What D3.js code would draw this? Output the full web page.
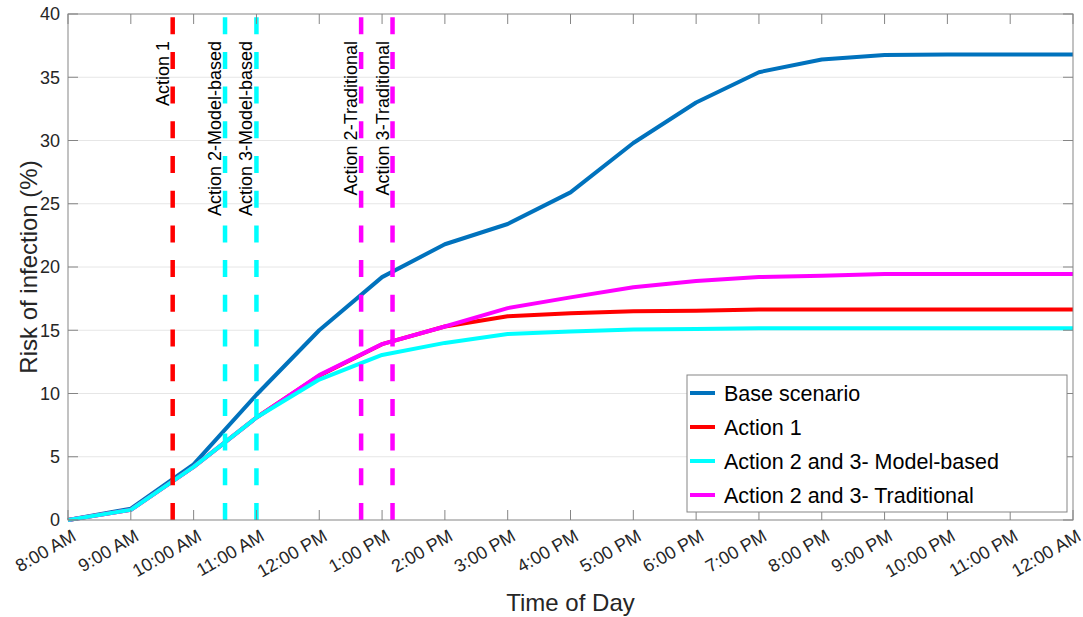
<!DOCTYPE html>
<html>
<head>
<meta charset="utf-8">
<script src="https://cdn.jsdelivr.net/npm/d3@7"></script>
<style>
  body { margin: 0; background: #fff; }
  text { font-family: "Liberation Sans", Arial, sans-serif; fill: #262626; }
</style>
</head>
<body>
<svg class="plot" width="1083" height="617"></svg>
<script>
// hours since midnight, one point per hour from 8 AM to 12 AM
var hours = [8, 9, 10, 11, 12, 13, 14, 15, 16, 17, 18, 19, 20, 21, 22, 23, 24];
var hourLabels = ["8:00 AM", "9:00 AM", "10:00 AM", "11:00 AM", "12:00 PM", "1:00 PM", "2:00 PM",
  "3:00 PM", "4:00 PM", "5:00 PM", "6:00 PM", "7:00 PM", "8:00 PM", "9:00 PM", "10:00 PM",
  "11:00 PM", "12:00 AM"];
var yTicks = [0, 5, 10, 15, 20, 25, 30, 35, 40];

// risk of infection (%) for each scenario
var baseScenario = [0, 0.9, 4.4, 9.9, 15.0, 19.2, 21.8, 23.4, 25.9, 29.8, 33.0, 35.4, 36.4, 36.75, 36.8, 36.8, 36.8];
var action1 = [0, 0.8, 4.2, 8.1, 11.4, 13.9, 15.3, 16.1, 16.35, 16.5, 16.55, 16.65, 16.65, 16.65, 16.65, 16.65, 16.65];
var modelBased = [0, 0.8, 4.2, 8.1, 11.1, 13.05, 14.0, 14.7, 14.9, 15.05, 15.1, 15.15, 15.15, 15.15, 15.15, 15.15, 15.15];
var traditional = [0, 0.8, 4.2, 8.1, 11.45, 13.9, 15.3, 16.75, 17.6, 18.4, 18.9, 19.2, 19.3, 19.45, 19.45, 19.45, 19.45];

// intervention times (hours) and their labels
var actionTimes = [9 + 40 / 60, 10.5, 11, 12 + 40 / 60, 13 + 10 / 60];
var actionNames = ["Action 1", "Action 2-Model-based", "Action 3-Model-based", "Action 2-Traditional", "Action 3-Traditional"];
var actionColors = ["#ff0000", "#00ffff", "#00ffff", "#ff00ff", "#ff00ff"];

var seriesNames = ["Base scenario", "Action 1", "Action 2 and 3- Model-based", "Action 2 and 3- Traditional"];
var seriesColors = ["#0072bd", "#ff0000", "#00ffff", "#ff00ff"];
var seriesValues = [baseScenario, action1, modelBased, traditional];
var drawOrder = [0, 1, 3, 2]; // model-based line sits on top, as in the original

var svg = d3.select(".plot"),
    margin = {top: 14, right: 10, bottom: 97, left: 68},
    width = +svg.attr("width") - margin.left - margin.right,
    height = +svg.attr("height") - margin.top - margin.bottom;

var x = d3.scaleLinear().domain([8, 24]).range([0, width]),
    y = d3.scaleLinear().domain([0, 40]).range([height, 0]);

var g = svg.append("g")
    .attr("transform", "translate(" + margin.left + "," + margin.top + ")");

// horizontal grid
g.selectAll(".grid")
    .data(yTicks.slice(1, -1))
    .enter().append("line")
    .attr("x1", 0).attr("x2", width)
    .attr("y1", function(d) { return y(d); })
    .attr("y2", function(d) { return y(d); })
    .attr("stroke", "#e6e6e6")
    .attr("stroke-width", 1);

var line = d3.line()
    .x(function(d, i) { return x(hours[i]); })
    .y(function(d) { return y(d); });

g.selectAll(".series")
    .data(drawOrder)
    .enter().append("path")
    .attr("class", "series")
    .attr("d", function(k) { return line(seriesValues[k]); })
    .attr("fill", "none")
    .attr("stroke", function(k) { return seriesColors[k]; })
    .attr("stroke-width", 4)
    .attr("stroke-linejoin", "round");

// dashed action markers
g.selectAll(".action")
    .data(actionTimes)
    .enter().append("line")
    .attr("class", "action")
    .attr("x1", function(d) { return x(d); })
    .attr("x2", function(d) { return x(d); })
    .attr("y1", y(0))
    .attr("y2", y(40))
    .attr("stroke", function(d, i) { return actionColors[i]; })
    .attr("stroke-width", 4.5)
    .attr("stroke-dasharray", "17,17.7");

g.selectAll(".action-label")
    .data(actionTimes)
    .enter().append("text")
    .attr("transform", function(d) { return "translate(" + (x(d) - 4) + "," + (y(40) + 27) + ") rotate(-90)"; })
    .attr("text-anchor", "end")
    .style("font-size", "18px")
    .style("fill", "#000")
    .text(function(d, i) { return actionNames[i]; });

// axes box and inward ticks
var axisColor = "#858585";
g.append("rect")
    .attr("width", width).attr("height", height)
    .attr("fill", "none").attr("stroke", axisColor).attr("stroke-width", 1);

hours.forEach(function(h) {
  g.append("line").attr("x1", x(h)).attr("x2", x(h)).attr("y1", height).attr("y2", height - 10)
      .attr("stroke", axisColor);
  g.append("line").attr("x1", x(h)).attr("x2", x(h)).attr("y1", 0).attr("y2", 10)
      .attr("stroke", axisColor);
});
yTicks.forEach(function(v) {
  g.append("line").attr("x1", 0).attr("x2", 10).attr("y1", y(v)).attr("y2", y(v)).attr("stroke", axisColor);
  g.append("line").attr("x1", width).attr("x2", width - 10).attr("y1", y(v)).attr("y2", y(v)).attr("stroke", axisColor);
});

// tick labels
g.selectAll(".ylab")
    .data(yTicks)
    .enter().append("text")
    .attr("x", -8)
    .attr("y", function(d) { return y(d); })
    .attr("dy", "0.35em")
    .attr("text-anchor", "end")
    .style("font-size", "18px")
    .text(function(d) { return d; });

g.selectAll(".xlab")
    .data(hours)
    .enter().append("text")
    .attr("transform", function(d) { return "translate(" + (x(d) + 6) + "," + (height + 14) + ") rotate(-30)"; })
    .attr("text-anchor", "end")
    .attr("dy", "0.35em")
    .style("font-size", "18px")
    .text(function(d, i) { return hourLabels[i]; });

// axis titles
svg.append("text")
    .attr("x", margin.left + width / 2)
    .attr("y", 611)
    .attr("text-anchor", "middle")
    .style("font-size", "24px")
    .text("Time of Day");

svg.append("text")
    .attr("transform", "translate(37," + (margin.top + height / 2) + ") rotate(-90)")
    .attr("text-anchor", "middle")
    .style("font-size", "24px")
    .text("Risk of infection (%)");

// legend
var legend = svg.append("g").attr("transform", "translate(687,375)");
legend.append("rect")
    .attr("width", 380).attr("height", 137)
    .attr("fill", "#fff").attr("stroke", axisColor);

var rows = legend.selectAll(".row")
    .data(seriesNames)
    .enter().append("g")
    .attr("transform", function(d, i) { return "translate(0," + (18 + i * 34) + ")"; });
rows.append("line")
    .attr("x1", 3).attr("x2", 28)
    .attr("stroke", function(d, i) { return seriesColors[i]; })
    .attr("stroke-width", 4);
rows.append("text")
    .attr("x", 37)
    .attr("dy", "0.35em")
    .style("font-size", "21.5px")
    .style("fill", "#000")
    .text(function(d) { return d; });
</script>
</body>
</html>
